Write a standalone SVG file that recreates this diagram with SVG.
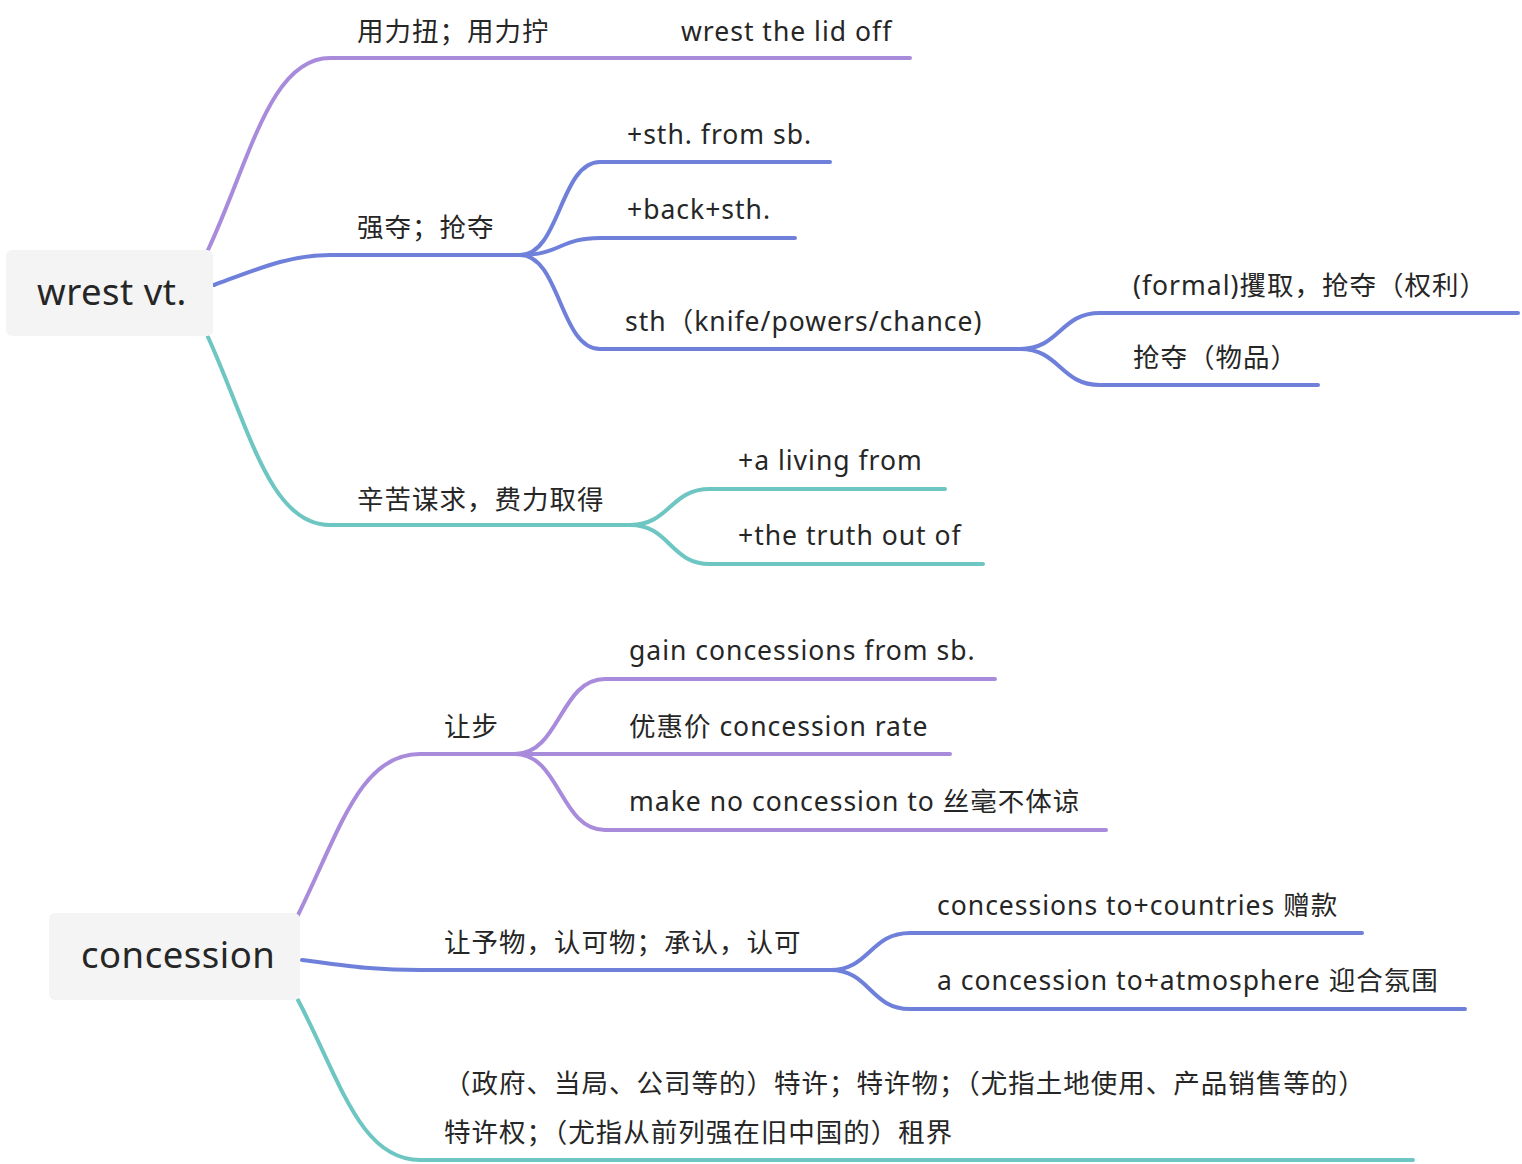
<svg xmlns="http://www.w3.org/2000/svg" width="1522" height="1164" viewBox="0 0 1522 1164">
<style>
text{font-family:"Noto Sans","Noto Sans CJK SC",sans-serif;font-size:26.5px;letter-spacing:1px;fill:#262626}
.root{font-size:36.5px;letter-spacing:0.5px}
path{fill:none;stroke-width:4;stroke-linecap:round}
.p{stroke:#A98BDC}.b{stroke:#6F80DA}.t{stroke:#6EC6C2}
.box{fill:#F4F4F4}
</style>
<rect width="1522" height="1164" fill="#fff"/>
<g id="connectors">
<path class="p" d="M208 250 C250 160,270 58,330 58 L910 58"/>
<path class="b" d="M214 285 C260 268,290 255,330 255 L520 255"/>
<path class="b" d="M520 255 C560 255,560 162,600 162 L830 162"/>
<path class="b" d="M520 255 C560 255,560 238,600 238 L795 238"/>
<path class="b" d="M520 255 C560 255,560 349,600 349 L1020 349"/>
<path class="b" d="M1020 349 C1060 349,1060 313,1100 313 L1518 313"/>
<path class="b" d="M1020 349 C1060 349,1060 385,1100 385 L1318 385"/>
<path class="t" d="M208 337 C250 430,270 525,330 525 L630 525"/>
<path class="t" d="M630 525 C670 525,670 489,710 489 L945 489"/>
<path class="t" d="M630 525 C670 525,670 564,710 564 L983 564"/>
<path class="p" d="M298 915 C340 830,360 754,420 754 L515 754"/>
<path class="p" d="M515 754 C560 754,560 679,605 679 L995 679"/>
<path class="p" d="M515 754 C560 754,560 754,605 754 L950 754"/>
<path class="p" d="M515 754 C560 754,560 830,605 830 L1106 830"/>
<path class="b" d="M302 960 C350 966,370 970,420 970 L830 970"/>
<path class="b" d="M830 970 C870 970,870 933,910 933 L1362 933"/>
<path class="b" d="M830 970 C870 970,870 1009,910 1009 L1465 1009"/>
<path class="t" d="M298 1000 C340 1080,360 1160,420 1160 L1413 1160"/>
</g>
<g id="root-wrest"><rect class="box" x="6" y="250" width="207" height="86" rx="6"/><text class="root" x="37" y="305">wrest vt.</text></g>
<g id="n1"><text x="357" y="41">用力扭；用力拧</text><text x="681" y="41">wrest the lid off</text></g>
<g id="n2"><text x="357" y="237">强夺；抢夺</text></g>
<g id="n2a"><text x="627" y="144">+sth. from sb.</text></g>
<g id="n2b"><text x="627" y="219">+back+sth.</text></g>
<g id="n2c"><text x="625" y="331">sth（knife/powers/chance)</text></g>
<g id="n2c1"><text x="1133" y="295">(formal)攫取，抢夺（权利）</text></g>
<g id="n2c2"><text x="1133" y="367">抢夺（物品）</text></g>
<g id="n3"><text x="357" y="509">辛苦谋求，费力取得</text></g>
<g id="n3a"><text x="738" y="470">+a living from</text></g>
<g id="n3b"><text x="738" y="545">+the truth out of</text></g>
<g id="root-concession"><rect class="box" x="49" y="913" width="251" height="87" rx="6"/><text class="root" x="81" y="968">concession</text></g>
<g id="c1"><text x="444" y="736">让步</text></g>
<g id="c1a"><text x="629" y="660">gain concessions from sb.</text></g>
<g id="c1b"><text x="629" y="736">优惠价 concession rate</text></g>
<g id="c1c"><text x="629" y="811">make no concession to 丝毫不体谅</text></g>
<g id="c2"><text x="444" y="952">让予物，认可物；承认，认可</text></g>
<g id="c2a"><text x="937" y="915">concessions to+countries 赠款</text></g>
<g id="c2b"><text x="937" y="990">a concession to+atmosphere 迎合氛围</text></g>
<g id="c3"><text x="444" y="1093">（政府、当局、公司等的）特许；特许物；（尤指土地使用、产品销售等的）</text><text x="444" y="1142">特许权；（尤指从前列强在旧中国的）租界</text></g>
</svg>
